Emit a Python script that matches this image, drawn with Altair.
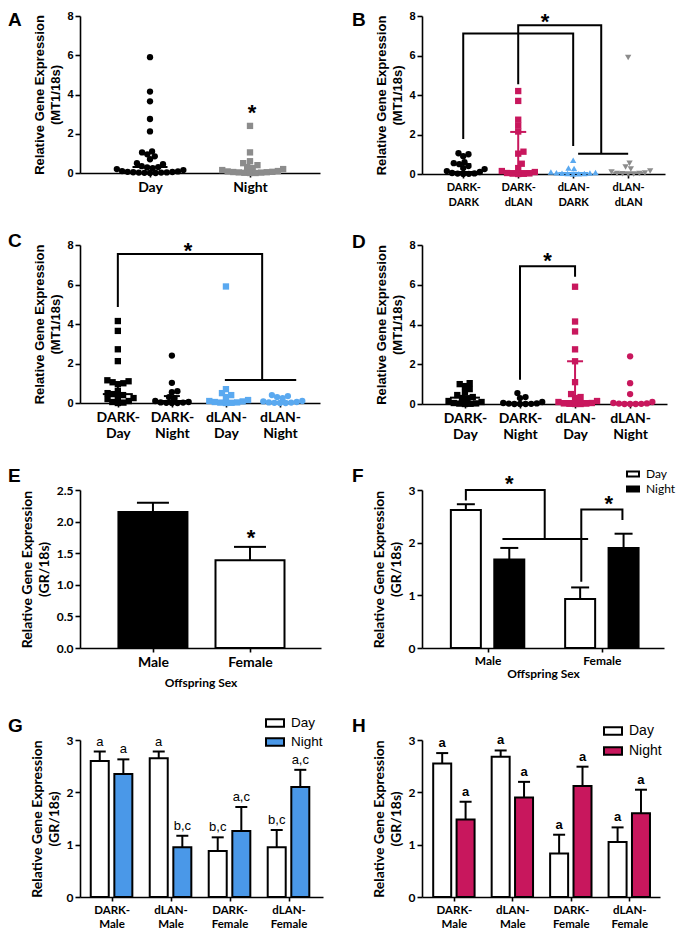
import json
import math
import altair as alt
import pandas as pd

# ---------------- colours ----------------
BLACK = "#000000"
GRAY = "#8c8c8c"
PINK = "#c8175d"
LBLUE = "#5aa9f0"
GBLUE = "#4a98e8"

# ---------------- Panel A (MT1, Day vs Night) ----------------
A_labels = ["Day", "Night"]
A_day = [5.9, 4.15, 3.65, 2.75, 2.12, 1.1, 1.05, 0.95, 0.85, 0.7, 0.5, 0.45, 0.35, 0.3,
         0.28, 0.25, 0.2, 0.15, 0.1, 0.08, 0.06, 0.05, 0.04, 0.03, 0.02, 0.02, 0.01,
         0.0, 0.0]
A_night = [2.4, 1.05, 0.6, 0.5, 0.4, 0.3, 0.25, 0.2, 0.15, 0.1, 0.08, 0.06, 0.05,
           0.04, 0.03, 0.02, 0.01, 0.0, 0.0]
A_mid = [0.3, 0.08]
A_lo = [0.3, 0.08]
A_hi = [0.3, 0.08]
A_star_x = [1.02]
A_star_y = [3.37]
A_brk_x = []
A_brk_y = []

# ---------------- Panel B (MT1, maternal x offspring light) ----------------
B_labels = [["DARK-", "DARK"], ["DARK-", "dLAN"], ["dLAN-", "DARK"], ["dLAN-", "dLAN"]]
B_dd = [1.05, 1.0, 0.9, 0.6, 0.55, 0.5, 0.4, 0.3, 0.25, 0.15, 0.1, 0.05, 0.03, 0.02, 0.01, 0.0]
B_dl = [4.2, 3.7, 2.75, 2.45, 2.15, 1.13, 1.03, 0.52, 0.3, 0.15, 0.1, 0.05, 0.03, 0.02, 0.01, 0.0]
B_ld = [0.7, 0.3, 0.28, 0.1, 0.08, 0.06, 0.05, 0.04, 0.03, 0.02, 0.01, 0.0]
B_ll = [5.9, 0.55, 0.35, 0.25, 0.15, 0.1, 0.05, 0.03, 0.02, 0.01, 0.0, 0.0]
B_mid = [0.1, 0.15, 0.05, 0.05]
B_lo = [0.1, 0.15, 0.05, 0.05]
B_hi = [0.5, 2.13, 0.05, 0.05]
B_star_x = [1.49]
B_star_y = [8.0]
B_brk_x = [[0, 0, 2, 2], [1, 1, 2.51, 2.51], [2.09, 3.0]]
B_brk_y = [[1.77, 7.12, 7.12, 1.42], [4.54, 7.53, 7.53, 1.03], [1.03, 1.03]]

# ---------------- Panel C ----------------
C_labels = [["DARK-", "Day"], ["DARK-", "Night"], ["dLAN-", "Day"], ["dLAN-", "Night"]]
C_dday = [4.15, 3.65, 2.72, 2.12, 1.15, 1.1, 1.05, 1.0, 0.95, 0.6, 0.5, 0.45, 0.4, 0.3,
          0.25, 0.2, 0.1, 0.05, 0.02, 0.0]
C_dnight = [2.4, 1.02, 0.6, 0.55, 0.3, 0.25, 0.1, 0.05, 0.03, 0.02, 0.01, 0.0, 0.0]
C_lday = [5.9, 0.7, 0.5, 0.4, 0.3, 0.15, 0.1, 0.08, 0.05, 0.03, 0.02, 0.01, 0.0]
C_lnight = [0.4, 0.35, 0.3, 0.25, 0.1, 0.08, 0.05, 0.03, 0.02, 0.01, 0.0, 0.0]
C_mid = [0.45, 0.1, 0.08, 0.05]
C_lo = [0.1, 0.1, 0.08, 0.05]
C_hi = [1.05, 0.35, 0.08, 0.05]
C_star_x = [1.3]
C_star_y = [8.0]
C_brk_x = [[0, 0, 2.67, 2.67], [1.98, 3.3]]
C_brk_y = [[4.86, 7.54, 7.54, 1.16], [1.16, 1.16]]

# ---------------- Panel D ----------------
D_labels = [["DARK-", "Day"], ["DARK-", "Night"], ["dLAN-", "Day"], ["dLAN-", "Night"]]
D_dday = [1.05, 1.0, 0.9, 0.75, 0.6, 0.45, 0.35, 0.3, 0.25, 0.15, 0.1, 0.05, 0.03, 0.02, 0.01, 0.0]
D_dnight = [0.55, 0.35, 0.3, 0.1, 0.05, 0.03, 0.02, 0.01, 0.0, 0.0, 0.0]
D_lday = [5.9, 4.15, 3.65, 2.75, 2.15, 1.1, 0.5, 0.35, 0.3, 0.15, 0.1, 0.05, 0.03, 0.02,
          0.01, 0.0, 0.0]
D_lnight = [2.4, 1.05, 0.5, 0.1, 0.05, 0.03, 0.02, 0.01, 0.0, 0.0, 0.0]
D_mid = [0.32, 0.05, 0.15, 0.05]
D_lo = [0.32, 0.05, 0.15, 0.05]
D_hi = [0.4, 0.05, 2.15, 0.05]
D_star_x = [1.5]
D_star_y = [7.5]
D_brk_x = [[1, 1, 2, 2]]
D_brk_y = [[1.22, 6.93, 6.93, 6.4]]

# ---------------- Panel E (GR by sex) ----------------
E_labels = ["Male", "Female"]
E_keys = ["Male", "Female"]
E_vals = [2.15, 1.39]
E_err = [2.3, 1.6]
E_star_x = [1.01]
E_star_y = [1.83]

# ---------------- Panel F (GR, sex x time) ----------------
F_labels = ["Male", "Female"]
F_time = ["Day", "Night"]
F_day = [2.62, 0.93]
F_day_err = [2.73, 1.15]
F_night = [1.68, 1.9]
F_night_err = [1.9, 2.17]
F_star_x = [0.19, 1.06]
F_star_y = [3.22, 2.84]
F_brk_x = [[-0.19, -0.19, 0.5, 0.5], [0.13, 0.88], [0.82, 0.82, 1.18, 1.18]]
F_brk_y = [[2.8, 3.0, 3.0, 2.07], [2.07, 2.07], [1.26, 2.63, 2.63, 2.43]]

# ---------------- Panel G ----------------
GH_labels = [["DARK-", "Male"], ["dLAN-", "Male"], ["DARK-", "Female"], ["dLAN-", "Female"]]
G_day = [2.6, 2.65, 0.88, 0.95]
G_day_err = [2.78, 2.78, 1.14, 1.28]
G_night = [2.35, 0.95, 1.26, 2.1]
G_night_err = [2.63, 1.17, 1.72, 2.43]
G_day_txt = ["a", "a", "b,c", "b,c"]
G_night_txt = ["a", "b,c", "a,c", "a,c"]

# ---------------- Panel H ----------------
H_day = [2.55, 2.68, 0.83, 1.05]
H_day_err = [2.75, 2.8, 1.19, 1.33]
H_night = [1.48, 1.9, 2.12, 1.6]
H_night_err = [1.82, 2.2, 2.49, 2.05]
H_day_txt = ["a", "a", "a", "a"]
H_night_txt = ["a", "a", "a", "a"]


# ---------------- helpers ----------------
def swarm(vals, ypx, d):
    """Deterministic beeswarm: horizontal pixel offsets so that dots don't overlap."""
    n = len(vals)
    xs = [0.0] * n
    placed = []
    for i in sorted(range(n), key=lambda k: vals[k]):
        y = vals[i] * ypx
        cands = [0.0]
        for (px, py) in placed:
            dy = y - py
            if abs(dy) < d:
                dx = math.sqrt(d * d - dy * dy)
                cands.append(px + dx)
                cands.append(px - dx)
        cands.sort(key=lambda c: (round(abs(c), 4), -c))
        for c in cands:
            if all((c - px) ** 2 + (y - py) ** 2 >= d * d - 1e-6 for (px, py) in placed):
                xs[i] = c
                break
        placed.append((xs[i], y))
    return xs


def x_axis(labels, size, line_h, title=None, tsize=12, tpad=2):
    kw = dict(values=list(range(len(labels))), labelExpr=json.dumps(labels) + "[datum.value]",
              grid=False, tickSize=4, labelFont="Lato", labelFontWeight="bold",
              labelFontSize=size, labelLineHeight=line_h, labelPadding=3, labelOverlap=False,
              labelFlush=False, labelBound=False, labelAngle=0)
    if title:
        kw.update(title=title, titleFont="Lato", titleFontWeight="bold", titleFontSize=tsize,
                  titlePadding=tpad)
    else:
        kw.update(title=None)
    return alt.Axis(**kw)


def y_axis(values, title, tfont, tsize, lfont, lsize, fmt=None, tpad=4):
    kw = dict(values=values, title=title, titleFont=tfont, titleFontSize=tsize,
              titleFontWeight="bold", titleLineHeight=tsize + 3, titlePadding=tpad,
              labelFont=lfont, labelFontSize=lsize, labelFontWeight="bold", tickSize=5,
              grid=False, labelPadding=2)
    if fmt:
        kw["format"] = fmt
    return alt.Axis(**kw)


def letter_layer(letter, dx, dy):
    return alt.Chart(pd.DataFrame({"t": [letter]})).mark_text(
        align="left", baseline="alphabetic", font="Liberation Sans", fontSize=19,
        fontWeight="bold", color="black").encode(x=alt.value(dx), y=alt.value(dy), text="t:N")


def bracket_layer(bx, by, X, Y):
    rows = []
    for b, (xs_, ys_) in enumerate(zip(bx, by)):
        for o, (xv, yv) in enumerate(zip(xs_, ys_)):
            rows.append(dict(b=b, o=o, bx=xv, by=yv))
    return alt.Chart(pd.DataFrame(rows)).mark_line(color="black", strokeWidth=2).encode(
        X("bx"), Y("by"), detail="b:N", order="o:Q")


def star_layer(sx, sy, X, Y):
    return alt.Chart(pd.DataFrame({"sx": sx, "sy": sy})).mark_text(
        text="*", font="Liberation Sans", fontSize=22, fontWeight="bold", baseline="alphabetic",
        dy=13, color="black").encode(X("sx"), Y("sy"))


def scatter_panel(letter, lpos, W, H, xdom, labels, values, shapes, colors, mid, lo, hi,
                  mid_w, brk_x, brk_y, star_x, star_y, lab_size, lab_lh):
    xpx = W / (xdom[1] - xdom[0])
    ypx = H / 8.0
    rows = []
    for gi, vals in enumerate(values):
        offs = swarm(vals, ypx, 5.6)
        for v, o in zip(vals, offs):
            rows.append(dict(g=str(gi), x=gi + o / xpx, y=v))
    pts = pd.DataFrame(rows)
    gdom = [str(i) for i in range(len(labels))]
    xs = alt.Scale(domain=xdom, nice=False, zero=False)
    ys = alt.Scale(domain=[0, 8], nice=False)
    xa = x_axis(labels, lab_size, lab_lh)
    ya = y_axis([0, 2, 4, 6, 8], ["Relative Gene Expression", "(MT1/18s)"],
                "Liberation Sans", 13, "Liberation Sans", 11)

    def X(f):
        return alt.X(f, type="quantitative", scale=xs, axis=xa)

    def Y(f):
        return alt.Y(f, type="quantitative", scale=ys, axis=ya)

    col = alt.Color("g:N", scale=alt.Scale(domain=gdom, range=colors), legend=None)
    shp = alt.Shape("g:N", scale=alt.Scale(domain=gdom, range=shapes), legend=None)
    layers = [alt.Chart(pts).mark_point(filled=True, size=40, opacity=1, strokeWidth=0).encode(
        X("x"), Y("y"), color=col, shape=shp)]
    st = pd.DataFrame(dict(g=gdom, x=list(range(len(labels))), mid=mid, lo=lo, hi=hi))
    layers.append(alt.Chart(st).mark_tick(orient="horizontal", size=mid_w, thickness=2,
                                          opacity=1).encode(X("x"), Y("mid"), color=col))
    layers.append(alt.Chart(st).mark_rule(strokeWidth=2).encode(
        X("x"), Y("lo"), alt.Y2("hi"), color=col))
    caps = []
    for i in range(len(labels)):
        if hi[i] > mid[i] + 0.01:
            caps.append(dict(g=str(i), x=i, c=hi[i]))
        if lo[i] < mid[i] - 0.01:
            caps.append(dict(g=str(i), x=i, c=lo[i]))
    if caps:
        layers.append(alt.Chart(pd.DataFrame(caps)).mark_tick(
            orient="horizontal", size=16, thickness=2, opacity=1).encode(X("x"), Y("c"), color=col))
    if brk_x:
        layers.append(bracket_layer(brk_x, brk_y, X, Y))
    layers.append(star_layer(star_x, star_y, X, Y))
    layers.append(letter_layer(letter, lpos[0], lpos[1]))
    return alt.layer(*layers).properties(width=W, height=H)


def bar_panel(letter, lpos, W, H, xdom, ymax, yvals, yfmt, ytitle, labels, lab_size, lab_lh,
              df, key_dom, key_rng, bar_w, cap_w, legend=None, xtitle=None, xt_pad=2,
              brk_x=None, brk_y=None, star_x=None, star_y=None, top_weight="normal"):
    xs = alt.Scale(domain=xdom, nice=False, zero=False)
    ys = alt.Scale(domain=[0, ymax], nice=False)
    xa = x_axis(labels, lab_size, lab_lh, title=xtitle, tsize=12, tpad=xt_pad)
    ya = y_axis(yvals, ytitle, "Lato", 14, "Lato", 12, fmt=yfmt, tpad=5)

    def X(f):
        return alt.X(f, type="quantitative", scale=xs, axis=xa)

    def Y(f):
        return alt.Y(f, type="quantitative", scale=ys, axis=ya)

    layers = [
        alt.Chart(df).mark_bar(orient="vertical", size=bar_w, stroke="black", strokeWidth=2).encode(
            X("pos"), Y("val"),
            color=alt.Color("key:N", scale=alt.Scale(domain=key_dom, range=key_rng), legend=legend)),
        alt.Chart(df).mark_rule(strokeWidth=2, color="black").encode(X("pos"), Y("val"), alt.Y2("err")),
        alt.Chart(df).mark_tick(orient="horizontal", size=cap_w, thickness=2, color="black",
                                opacity=1).encode(X("pos"), Y("err")),
    ]
    if "top" in df.columns:
        layers.append(alt.Chart(df).mark_text(
            baseline="bottom", dy=-3, font="Liberation Sans", fontSize=13, fontWeight=top_weight,
            color="black").encode(X("pos"), Y("err"), text="top:N"))
    if brk_x:
        layers.append(bracket_layer(brk_x, brk_y, X, Y))
    if star_x:
        layers.append(star_layer(star_x, star_y, X, Y))
    layers.append(letter_layer(letter, lpos[0], lpos[1]))
    return alt.layer(*layers).properties(width=W, height=H)


def dodge_df(day, day_err, night, night_err, off, day_txt=None, night_txt=None):
    rows = []
    for i in range(len(day)):
        r1 = dict(pos=i - off, val=day[i], err=day_err[i], key="Day")
        r2 = dict(pos=i + off, val=night[i], err=night_err[i], key="Night")
        if day_txt:
            r1["top"] = day_txt[i]
            r2["top"] = night_txt[i]
        rows += [r1, r2]
    return pd.DataFrame(rows)


def box_legend(lx, ly, sym_w, font, fsize, rowpad):
    return alt.Legend(orient="none", legendX=lx, legendY=ly, title=None,
                      symbolType="M-1,-0.42H1V0.42H-1Z", symbolSize=sym_w * sym_w,
                      symbolStrokeColor="black", symbolStrokeWidth=2, symbolOpacity=1,
                      labelFont=font, labelFontSize=fsize, labelColor="black",
                      rowPadding=rowpad, padding=0, labelOffset=6)


# ---------------- panels ----------------
pA = scatter_panel("A", (-72, 9.5), 240, 157, [-0.7, 1.7], A_labels, [A_day, A_night],
                   ["circle", "square"], [BLACK, GRAY], A_mid, A_lo, A_hi, 35,
                   A_brk_x, A_brk_y, A_star_x, A_star_y, 14, 16)
pB = scatter_panel("B", (-70, 9.5), 243, 158, [-0.75, 3.67], B_labels, [B_dd, B_dl, B_ld, B_ll],
                   ["circle", "square", "triangle-up", "triangle-down"],
                   [BLACK, PINK, LBLUE, GRAY], B_mid, B_lo, B_hi, 30,
                   B_brk_x, B_brk_y, B_star_x, B_star_y, 11, 15)
pC = scatter_panel("C", (-72, 2), 240, 158, [-0.7, 3.74], C_labels,
                   [C_dday, C_dnight, C_lday, C_lnight],
                   ["square", "circle", "square", "circle"], [BLACK, BLACK, LBLUE, LBLUE],
                   C_mid, C_lo, C_hi, 30, C_brk_x, C_brk_y, C_star_x, C_star_y, 14, 16)
pD = scatter_panel("D", (-70, 3), 245, 159, [-0.78, 3.67], D_labels,
                   [D_dday, D_dnight, D_lday, D_lnight],
                   ["square", "circle", "square", "circle"], [BLACK, BLACK, PINK, PINK],
                   D_mid, D_lo, D_hi, 30, D_brk_x, D_brk_y, D_star_x, D_star_y, 14, 16)

E_df = pd.DataFrame(dict(pos=[0, 1], val=E_vals, err=E_err, key=E_keys))
pE = bar_panel("E", (-72, -8), 241, 158, [-0.70, 1.68], 2.5, [0, 0.5, 1, 1.5, 2, 2.5], ".1f",
               ["Relative Gene Expression", "(GR/18s)"], E_labels, 14, 16, E_df,
               E_keys, [BLACK, "white"], 69, 32, legend=None, xtitle="Offspring Sex", xt_pad=8,
               star_x=E_star_x, star_y=E_star_y)

F_df = dodge_df(F_day, F_day_err, F_night, F_night_err, 0.19)
pF = bar_panel("F", (-70, -8.5), 242, 158, [-0.53, 1.50], 3, [0, 1, 2, 3], None,
               ["Relative Gene Expression", "(GR/18s)"], F_labels, 12, 14, F_df,
               F_time, ["white", BLACK], 30, 18,
               legend=box_legend(204, -23, 12, "Lato", 12, 1),
               xtitle="Offspring Sex", xt_pad=2,
               brk_x=F_brk_x, brk_y=F_brk_y, star_x=F_star_x, star_y=F_star_y)

G_df = dodge_df(G_day, G_day_err, G_night, G_night_err, 0.2, G_day_txt, G_night_txt)
pG = bar_panel("G", (-72, -8), 243, 157, [-0.45, 3.50], 3, [0, 1, 2, 3], None,
               ["Relative Gene Expression", "(GR/18s)"], GH_labels, 11.5, 14, G_df,
               F_time, ["white", GBLUE], 18, 12,
               legend=box_legend(185, -27, 18, "Liberation Sans", 13.5, 1),
               top_weight="normal")

H_df = dodge_df(H_day, H_day_err, H_night, H_night_err, 0.2, H_day_txt, H_night_txt)
pH = bar_panel("H", (-70, -8), 238, 157, [-0.46, 3.44], 3, [0, 1, 2, 3], None,
               ["Relative Gene Expression", "(GR/18s)"], GH_labels, 11.5, 14, H_df,
               F_time, ["white", PINK], 18, 12,
               legend=box_legend(181, -19, 18, "Liberation Sans", 14, 2),
               top_weight="bold")

chart = alt.concat(pA, pB, pC, pD, pE, pF, pG, pH, columns=2,
                   spacing={"row": 25, "column": 29},
                   padding={"top": 2, "left": 0, "right": 0, "bottom": 0}).resolve_scale(
    x="independent", y="independent", color="independent", shape="independent"
).resolve_legend(color="independent", shape="independent").configure_view(
    stroke=None
).configure_axis(
    domainColor="black", domainWidth=1.6, tickColor="black", tickWidth=1.6,
    labelColor="black", titleColor="black"
)

chart.save("out.html", embed_options={"renderer": "svg", "actions": False})
